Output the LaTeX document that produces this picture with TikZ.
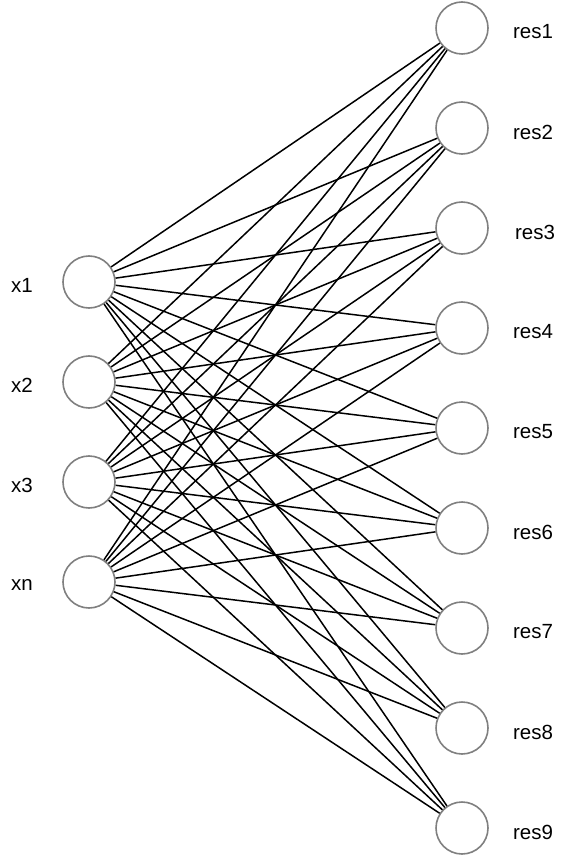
\documentclass[tikz,border=0pt]{standalone}
\usepackage{fontspec}
\setmainfont{Liberation Sans}
\begin{document}
\begin{tikzpicture}[x=1pt,y=-1pt,
  neuron/.style={circle,draw=black!50,line width=1.6pt,minimum size=52pt,inner sep=0pt,fill=white},
  lbl/.style={font=\fontsize{20.5}{22}\selectfont,inner sep=0pt,anchor=center},
  conn/.style={draw=black,line width=1.5pt}]
\useasboundingbox (0,0) rectangle (570,858);
\foreach \n/\y/\t in {1/282/x1,2/382/x2,3/482/x3,4/582/xn}{
  \node[neuron] (L\n) at (89,\y) {};
  \node[lbl] (LT\n) at (22,\y+3) {\t};
}
\foreach \n/\xx in {1/533,2/533,3/535,4/533,5/533,6/533,7/533,8/533,9/533}{
  \pgfmathsetmacro{\yy}{28+100*(\n-1)}
  \node[neuron] (R\n) at (462,\yy) {};
  \node[lbl] (RT\n) at (\xx,\yy+4) {res\n};
}
\foreach \i in {1,...,4}{
  \foreach \j in {1,...,9}{
    \draw[conn] (L\i) -- (R\j);
  }
}
\end{tikzpicture}
\end{document}
